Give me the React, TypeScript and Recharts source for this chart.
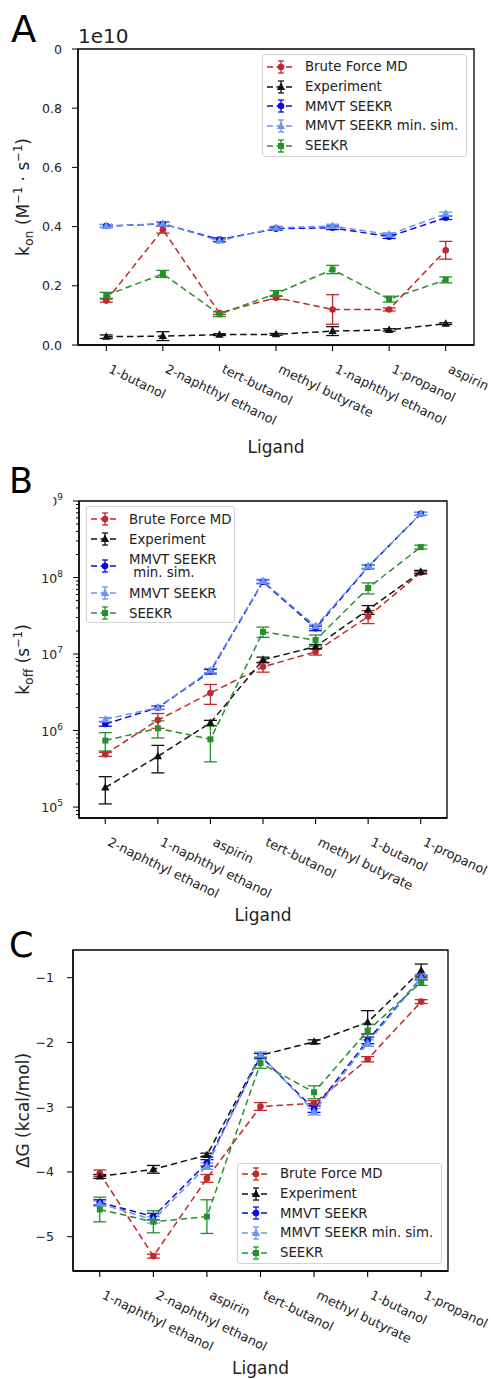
import React from "react";
import { ErrorBar, Label, Legend, Line, LineChart, ReferenceArea, XAxis, YAxis } from "recharts";

const FONT = "'DejaVu Sans', Verdana, sans-serif";

const RED = "#c0282c";
const BLACK = "#111111";
const BLUE = "#0b0bdc";
const LIGHT = "#6a97ee";
const GREEN = "#26912b";

// ---- panel A: k_on, in units of 1e10 ----
const ligandsA = ["1-butanol", "2-naphthyl ethanol", "tert-butanol", "methyl butyrate", "1-naphthyl ethanol", "1-propanol", "aspirin"];
const bruteA = [0.15, 0.39, 0.108, 0.16, 0.12, 0.12, 0.32];
const bruteErrA = [0.005, 0.012, 0.005, 0.006, 0.05, 0.005, 0.03];
const exptA = [0.028, 0.03, 0.035, 0.036, 0.047, 0.051, 0.072];
const exptErrA = [0.006, 0.015, 0.003, 0.003, 0.015, 0.004, 0.003];
const mmvtA = [0.402, 0.409, 0.356, 0.393, 0.396, 0.366, 0.43];
const mmvtErrA = [0.005, 0.006, 0.006, 0.005, 0.006, 0.006, 0.006];
const mmvtMinA = [0.402, 0.41, 0.352, 0.396, 0.402, 0.373, 0.443];
const mmvtMinErrA = [0.005, 0.006, 0.005, 0.005, 0.006, 0.006, 0.006];
const seekrA = [0.168, 0.24, 0.104, 0.174, 0.255, 0.155, 0.22];
const seekrErrA = [0.01, 0.012, 0.008, 0.01, 0.014, 0.01, 0.01];
const yTicksA = [0, 0.2, 0.4, 0.6, 0.8, 1.0];

// ---- panel B: k_off (s^-1), log scale ----
const ligandsB = ["2-naphthyl ethanol", "1-naphthyl ethanol", "aspirin", "tert-butanol", "methyl butyrate", "1-butanol", "1-propanol"];
const bruteB = [4.9e5, 1.37e6, 3.1e6, 6.8e6, 1.07e7, 3.1e7, 1.16e8];
const bruteErrB = [3e4, 3e5, 9e5, 1e6, 1e6, 6e6, 5e6];
const exptB = [1.8e5, 4.6e5, 1.26e6, 8.4e6, 1.25e7, 3.8e7, 1.19e8];
const exptErrB = [7e4, 1.8e5, 1e5, 7e5, 8e5, 5e6, 5e6];
const mmvtMinB = [1.22e6, 1.99e6, 5.9e6, 8.8e7, 2.17e7, 1.38e8, 6.8e8];
const mmvtMinErrB = [8e4, 1e5, 4e5, 5e6, 1.5e6, 8e6, 3e7];
const mmvtB = [1.4e6, 2.0e6, 6.1e6, 9.0e7, 2.3e7, 1.4e8, 6.8e8];
const mmvtErrB = [8e4, 1e5, 4e5, 5e6, 1.5e6, 8e6, 3e7];
const seekrB = [7.4e5, 1.07e6, 7.7e5, 1.95e7, 1.52e7, 7.3e7, 2.5e8];
const seekrErrB = [2e5, 2.7e5, 3.8e5, 3e6, 2.5e6, 1.2e7, 1.5e7];
const yMajorB = [1e5, 1e6, 1e7, 1e8, 1e9];
const yExpB = ["5", "6", "7", "8", "9"];

// ---- panel C: ΔG (kcal/mol) ----
const ligandsC = ["1-naphthyl ethanol", "2-naphthyl ethanol", "aspirin", "tert-butanol", "methyl butyrate", "1-butanol", "1-propanol"];
const bruteC = [-4.02, -5.3, -4.1, -2.99, -2.94, -2.26, -1.37];
const bruteErrC = [0.05, 0.03, 0.06, 0.06, 0.04, 0.04, 0.03];
const exptC = [-4.07, -3.96, -3.74, -2.2, -1.99, -1.69, -0.89];
const exptErrC = [0.03, 0.06, 0.03, 0.03, 0.03, 0.18, 0.1];
const mmvtC = [-4.47, -4.69, -3.86, -2.21, -3.03, -1.97, -1.0];
const mmvtErrC = [0.04, 0.05, 0.05, 0.04, 0.05, 0.05, 0.04];
const mmvtMinC = [-4.49, -4.74, -3.91, -2.19, -3.07, -2.01, -1.0];
const mmvtMinErrC = [0.04, 0.05, 0.05, 0.04, 0.05, 0.05, 0.04];
const seekrC = [-4.58, -4.77, -4.69, -2.32, -2.77, -1.82, -1.07];
const seekrErrC = [0.19, 0.17, 0.26, 0.08, 0.1, 0.1, 0.05];
const yTicksC = [-5, -4, -3, -2, -1];

type Shape = "circle" | "triangle" | "square";
type Series = { label: string[]; color: string; shape: Shape; values: number[]; errors: number[] };

function Marker({ cx, cy, shape, color }: any) {
  if (cx == null || cy == null || isNaN(cx) || isNaN(cy)) return null;
  if (shape === "circle") return <circle cx={cx} cy={cy} r={3.3} fill={color} />;
  if (shape === "triangle") return <path d={`M${cx},${cy - 4.5}L${cx + 4.2},${cy + 3}L${cx - 4.2},${cy + 3}Z`} fill={color} />;
  return <rect x={cx - 3} y={cy - 3} width={6} height={6} fill={color} />;
}

function XTick({ x, y, payload, labels }: any) {
  return (
    <g>
      <line x1={x} x2={x} y1={y} y2={y + 6} stroke="#000" strokeWidth={1.1} />
      <text
        transform={`translate(${x + 1.5},${y + 27}) rotate(26)`}
        fontFamily={FONT}
        fontSize={12.8}
        fill="#222"
        textAnchor="start"
      >
        {labels[payload.value]}
      </text>
    </g>
  );
}

function YTick({ x, y, payload, fmt, isMajor, gap }: any) {
  const major = isMajor ? isMajor(payload.value) : true;
  const len = major ? 6 : 3;
  return (
    <g>
      <line x1={x} x2={x - len} y1={y} y2={y} stroke="#000" strokeWidth={1} />
      {major && fmt(payload.value, x - gap, y)}
    </g>
  );
}

function linearLabel(v: number, x: number, y: number, digits: number) {
  const s = v < 0 ? "\u2212" + Math.abs(v).toFixed(digits) : v.toFixed(digits);
  return (
    <text x={x} y={y + 4.5} textAnchor="end" fontFamily={FONT} fontSize={12.5} fill="#222">
      {s}
    </text>
  );
}

function logLabel(v: number, x: number, y: number) {
  const idx = yMajorB.indexOf(v);
  return (
    <text x={x} y={y + 5} textAnchor="end" fontFamily={FONT} fontSize={12.5} fill="#222">
      10
      <tspan dy={-6} fontSize={9}>
        {yExpB[idx]}
      </tspan>
    </text>
  );
}

function XTitle({ viewBox, dy }: any) {
  const cx = viewBox.x + viewBox.width / 2;
  return (
    <text x={cx} y={viewBox.y + dy} textAnchor="middle" fontFamily={FONT} fontSize={17} fill="#222">
      Ligand
    </text>
  );
}

function YTitle({ viewBox, cx, kind }: any) {
  const cy = viewBox.y + viewBox.height / 2;
  const common = { fontFamily: FONT, fontSize: 17, fill: "#222" };
  let body: React.ReactNode;
  if (kind === "on")
    body = (
      <>
        k<tspan dy={4} fontSize={12.5}>on</tspan>
        <tspan dy={-4}> (M</tspan>
        <tspan dy={-7} fontSize={11.5}>{"\u22121"}</tspan>
        <tspan dy={7}>{" \u00b7 s"}</tspan>
        <tspan dy={-7} fontSize={11.5}>{"\u22121"}</tspan>
        <tspan dy={7}>)</tspan>
      </>
    );
  else if (kind === "off")
    body = (
      <>
        k<tspan dy={4} fontSize={12.5}>off</tspan>
        <tspan dy={-4}> (s</tspan>
        <tspan dy={-7} fontSize={11.5}>{"\u22121"}</tspan>
        <tspan dy={7}>)</tspan>
      </>
    );
  else body = <>{"\u0394G (kcal/mol)"}</>;
  return (
    <text x={cx} y={cy + 6} textAnchor="middle" transform={`rotate(-90, ${cx}, ${cy})`} {...common}>
      {body}
    </text>
  );
}

function Handle({ s }: { s: Series }) {
  return (
    <svg width={28} height={16} style={{ flex: "none" }}>
      <line x1={0} x2={28} y1={8} y2={8} stroke={s.color} strokeWidth={1.5} strokeDasharray="6 3.5" />
      <line x1={14} x2={14} y1={2} y2={14} stroke={s.color} strokeWidth={1.3} />
      <line x1={11} x2={17} y1={2} y2={2} stroke={s.color} strokeWidth={1.3} />
      <line x1={11} x2={17} y1={14} y2={14} stroke={s.color} strokeWidth={1.3} />
      <Marker cx={14} cy={8} shape={s.shape} color={s.color} />
    </svg>
  );
}

function LegendBox({ series, rowH, padTop }: any) {
  return (
    <div
      style={{
        boxSizing: "border-box",
        width: "100%",
        height: "100%",
        border: "1px solid #d2d2d2",
        borderRadius: 3,
        background: "rgba(255,255,255,0.85)",
        paddingTop: padTop,
        paddingLeft: 4,
        fontFamily: FONT,
        fontSize: 13.3,
        color: "#222",
      }}
    >
      {series.map((s: Series, i: number) => (
        <div key={i} style={{ display: "flex", alignItems: "center", height: rowH * s.label.length - (s.label.length - 1) * 6 }}>
          <Handle s={s} />
          <div style={{ marginLeft: 10, lineHeight: "13px", whiteSpace: "pre" }}>
            {s.label.map((t, j) => (
              <div key={j}>{t}</div>
            ))}
          </div>
        </div>
      ))}
    </div>
  );
}

type PanelProps = {
  top: number;
  height: number;
  plotTop: number;
  plotLeft: number;
  plotRight: number;
  plotBottom: number;
  ligands: string[];
  series: Series[];
  yDomain: [number, number];
  yTicks: number[];
  yScale?: "log" | "linear";
  yFmt: (v: number, x: number, y: number) => React.ReactNode;
  isMajor?: (v: number) => boolean;
  labelGap: number;
  yKind: string;
  titleDy: number;
  legend: { left: number; top: number; width: number; height: number; rowH: number; padTop: number };
};

function Panel(p: PanelProps) {
  const W = 491;
  const rows = p.ligands.map((name, i) => {
    const r: any = { i, name };
    p.series.forEach((s, k) => {
      r["v" + k] = s.values[i];
      r["e" + k] = s.errors[i];
    });
    return r;
  });
  const idx = p.ligands.map((_, i) => i);
  return (
    <div style={{ position: "absolute", left: 0, top: p.top }}>
      <LineChart
        width={W}
        height={p.height}
        data={rows}
        margin={{ top: p.plotTop, right: W - p.plotRight, bottom: 0, left: 0 }}
      >
        <XAxis
          dataKey="i"
          type="number"
          domain={[-0.5, 6.5]}
          ticks={idx}
          interval={0}
          height={p.height - p.plotBottom}
          tickSize={0}
          tickMargin={0}
          tickLine={false}
          axisLine={{ stroke: "#000", strokeWidth: 1.3 }}
          tick={<XTick labels={p.ligands} />}
        >
          <Label content={<XTitle dy={p.titleDy} />} />
        </XAxis>
        <YAxis
          type="number"
          scale={p.yScale || "linear"}
          domain={p.yDomain}
          ticks={p.yTicks}
          interval={0}
          allowDataOverflow
          width={p.plotLeft}
          tickSize={0}
          tickMargin={0}
          tickLine={false}
          axisLine={{ stroke: "#000", strokeWidth: 1.3 }}
          tick={<YTick fmt={p.yFmt} isMajor={p.isMajor} gap={p.labelGap} />}
        >
          <Label content={<YTitle cx={23} kind={p.yKind} />} />
        </YAxis>
        <Legend
          layout="vertical"
          align="center"
          verticalAlign="middle"
          wrapperStyle={{
            left: p.legend.left,
            top: p.legend.top,
            width: p.legend.width,
            height: p.legend.height,
          }}
          content={<LegendBox series={p.series} rowH={p.legend.rowH} padTop={p.legend.padTop} />}
        />
        {p.series.map((s, k) => (
          <Line
            key={k}
            type="linear"
            dataKey={"v" + k}
            name={s.label.join(" ")}
            stroke={s.color}
            strokeWidth={1.5}
            strokeDasharray="6.5 3.8"
            isAnimationActive={false}
            activeDot={false}
            dot={(d: any) => <Marker key={`${k}-${d.index}`} cx={d.cx} cy={d.cy} shape={s.shape} color={s.color} />}
          >
            <ErrorBar dataKey={"e" + k} width={6.5} strokeWidth={1.3} stroke={s.color} direction="y" isAnimationActive={false} />
          </Line>
        ))}
        {/* axes frame */}
        <ReferenceArea
          x1={-0.5}
          x2={6.5}
          y1={p.yDomain[0]}
          y2={p.yDomain[1]}
          fill="none"
          fillOpacity={0}
          stroke="#000"
          strokeWidth={1.3}
          ifOverflow="visible"
        />
      </LineChart>
    </div>
  );
}

const seriesA: Series[] = [
  { label: ["Brute Force MD"], color: RED, shape: "circle", values: bruteA, errors: bruteErrA },
  { label: ["Experiment"], color: BLACK, shape: "triangle", values: exptA, errors: exptErrA },
  { label: ["MMVT SEEKR"], color: BLUE, shape: "circle", values: mmvtA, errors: mmvtErrA },
  { label: ["MMVT SEEKR min. sim."], color: LIGHT, shape: "triangle", values: mmvtMinA, errors: mmvtMinErrA },
  { label: ["SEEKR"], color: GREEN, shape: "square", values: seekrA, errors: seekrErrA },
];

const seriesB: Series[] = [
  { label: ["Brute Force MD"], color: RED, shape: "circle", values: bruteB, errors: bruteErrB },
  { label: ["Experiment"], color: BLACK, shape: "triangle", values: exptB, errors: exptErrB },
  { label: ["MMVT SEEKR", " min. sim."], color: BLUE, shape: "circle", values: mmvtMinB, errors: mmvtMinErrB },
  { label: ["MMVT SEEKR"], color: LIGHT, shape: "triangle", values: mmvtB, errors: mmvtErrB },
  { label: ["SEEKR"], color: GREEN, shape: "square", values: seekrB, errors: seekrErrB },
];

const seriesC: Series[] = [
  { label: ["Brute Force MD"], color: RED, shape: "circle", values: bruteC, errors: bruteErrC },
  { label: ["Experiment"], color: BLACK, shape: "triangle", values: exptC, errors: exptErrC },
  { label: ["MMVT SEEKR"], color: BLUE, shape: "circle", values: mmvtC, errors: mmvtErrC },
  { label: ["MMVT SEEKR min. sim."], color: LIGHT, shape: "triangle", values: mmvtMinC, errors: mmvtMinErrC },
  { label: ["SEEKR"], color: GREEN, shape: "square", values: seekrC, errors: seekrErrC },
];

// log axis: decades plus 2..9 minor ticks inside the visible range
const yTicksB: number[] = [];
for (let k = 4; k <= 8; k++) {
  for (let m = 1; m <= 9; m++) {
    const v = m * Math.pow(10, k);
    if (v >= 72000 && v <= 1e9) yTicksB.push(v);
  }
}
yTicksB.push(1e9);

export default function App() {
  return (
    <div style={{ position: "absolute", left: 0, top: 0, width: 491, height: 1379, background: "#fff", overflow: "hidden" }}>
      <Panel
        top={0}
        height={460}
        plotTop={49}
        plotLeft={78}
        plotRight={474}
        plotBottom={345}
        ligands={ligandsA}
        series={seriesA}
        yDomain={[0, 1]}
        yTicks={yTicksA}
        yFmt={(v, x, y) => linearLabel(v, x, y, 1)}
        labelGap={16}
        yKind="on"
        titleDy={108}
        legend={{ left: 262, top: 54, width: 205, height: 103, rowH: 19.7, padTop: 2 }}
      />
      <Panel
        top={460}
        height={465}
        plotTop={41}
        plotLeft={79}
        plotRight={447}
        plotBottom={818 - 460}
        ligands={ligandsB}
        series={seriesB}
        yDomain={[72000, 1e9]}
        yTicks={yTicksB}
        yScale="log"
        isMajor={(v) => yMajorB.includes(v)}
        yFmt={logLabel}
        labelGap={16}
        yKind="off"
        titleDy={103}
        legend={{ left: 86, top: 46, width: 149, height: 117, rowH: 20, padTop: 2 }}
      />
      <Panel
        top={925}
        height={454}
        plotTop={25}
        plotLeft={73}
        plotRight={448}
        plotBottom={1271 - 925}
        ligands={ligandsC}
        series={seriesC}
        yDomain={[-5.53, -0.573]}
        yTicks={yTicksC}
        yFmt={(v, x, y) => linearLabel(v, x, y, 0)}
        labelGap={19}
        yKind="dg"
        titleDy={103}
        legend={{ left: 237, top: 238, width: 205, height: 101, rowH: 19.7, padTop: 0 }}
      />
      <svg width={491} height={1379} style={{ position: "absolute", left: 0, top: 0, pointerEvents: "none" }}>
        <rect x={0} y={41} width={54.5} height={16} fill="#fff" />
        <rect x={0} y={490} width={53.5} height={18} fill="#fff" />
        <text x={11} y={42} fontFamily={FONT} fontSize={37} fill="#000">A</text>
        <text x={9} y={493} fontFamily={FONT} fontSize={35} fill="#000">B</text>
        <text x={9} y={957} fontFamily={FONT} fontSize={35} fill="#000">C</text>
        <text x={78} y={43} fontFamily={FONT} fontSize={20} fill="#222">1e10</text>
      </svg>
    </div>
  );
}
